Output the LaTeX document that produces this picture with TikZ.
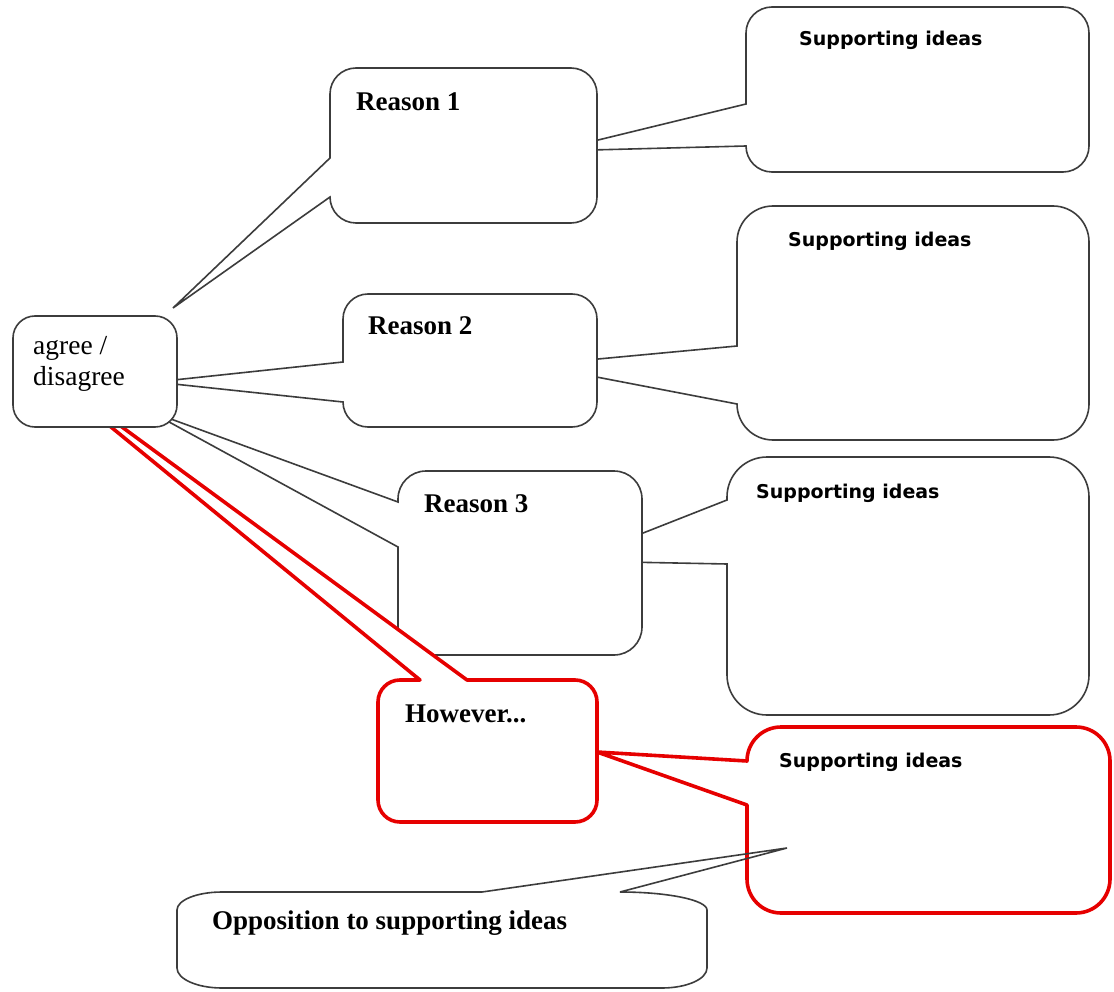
\documentclass[tikz,border=0pt]{standalone}
\usepackage{fontspec}
\setmainfont{Liberation Serif}
\newfontfamily\ideasans{DejaVu Sans}
\definecolor{outline}{RGB}{60,60,60}
\definecolor{calloutred}{RGB}{230,0,0}
\begin{document}
\begin{tikzpicture}[x=1pt,y=-1pt,
  bubble/.style={draw=outline, line width=1.6pt, fill=white, line join=miter, miter limit=4},
  redbubble/.style={draw=calloutred, line width=3.6pt, fill=white, line join=round},
  plainbubble/.style={draw=outline, line width=1.6pt, line join=miter, miter limit=4},
  seriftext/.style={anchor=base west, inner sep=0pt, font=\fontsize{27.5}{30}\selectfont},
  reasontext/.style={anchor=base west, inner sep=0pt, font=\fontsize{27}{30}\selectfont\bfseries},
  ideatext/.style={anchor=base west, inner sep=0pt, font=\ideasans\fontsize{19}{22}\selectfont\bfseries}]

% page
\fill[white] (0,0) rectangle (1114,992);
\useasboundingbox (0,0) rectangle (1114,992);

% supporting-idea bubbles (their tips tuck under the reason bubbles)
\draw[bubble] (772,7) -- (1063,7) arc[start angle=270,end angle=360,radius=26]
  -- (1089,146) arc[start angle=0,end angle=90,radius=26]
  -- (772,172) arc[start angle=90,end angle=180,radius=26]
  -- (553,151) -- (746,104)
  -- (746,33) arc[start angle=180,end angle=270,radius=26] -- cycle;
\draw[bubble] (773,206) -- (1053,206) arc[start angle=270,end angle=360,radius=36]
  -- (1089,404) arc[start angle=0,end angle=90,radius=36]
  -- (773,440) arc[start angle=90,end angle=180,radius=36]
  -- (534,365) -- (737,346)
  -- (737,242) arc[start angle=180,end angle=270,radius=36] -- cycle;
\draw[bubble] (767,457) -- (1049,457) arc[start angle=270,end angle=360,radius=40]
  -- (1089,675) arc[start angle=0,end angle=90,radius=40]
  -- (767,715) arc[start angle=90,end angle=180,radius=40]
  -- (727,564) -- (572,561) -- (727,500)
  -- (727,497) arc[start angle=180,end angle=270,radius=40] -- cycle;

% reason bubbles
\draw[bubble] (356,68) -- (571,68) arc[start angle=270,end angle=360,radius=26]
  -- (597,197) arc[start angle=0,end angle=90,radius=26]
  -- (356,223) arc[start angle=90,end angle=180,radius=26]
  -- (173,308) -- (330,158)
  -- (330,94) arc[start angle=180,end angle=270,radius=26] -- cycle;
\draw[bubble] (368,294) -- (572,294) arc[start angle=270,end angle=360,radius=25]
  -- (597,402) arc[start angle=0,end angle=90,radius=25]
  -- (368,427) arc[start angle=90,end angle=180,radius=25]
  -- (155,382) -- (343,362)
  -- (343,319) arc[start angle=180,end angle=270,radius=25] -- cycle;
\draw[bubble] (426,471) -- (614,471) arc[start angle=270,end angle=360,radius=28]
  -- (642,627) arc[start angle=0,end angle=90,radius=28]
  -- (426,655) arc[start angle=90,end angle=180,radius=28]
  -- (398,547) -- (149,411) -- (398,502)
  -- (398,499) arc[start angle=180,end angle=270,radius=28] -- cycle;

% counter-argument bubble
\draw[redbubble] (400,680) -- (420,680) -- (17,350) -- (467,680)
  -- (575,680) arc[start angle=270,end angle=360,radius=22]
  -- (597,800) arc[start angle=0,end angle=90,radius=22]
  -- (400,822) arc[start angle=90,end angle=180,radius=22]
  -- (378,702) arc[start angle=180,end angle=270,radius=22] -- cycle;

% opinion box
\draw[bubble] (35,316) -- (155,316) arc[start angle=270,end angle=360,radius=22]
  -- (177,405) arc[start angle=0,end angle=90,radius=22]
  -- (35,427) arc[start angle=90,end angle=180,radius=22]
  -- (13,338) arc[start angle=180,end angle=270,radius=22] -- cycle;

% supporting ideas for the counter-argument
\draw[redbubble] (781,727) -- (1076,727) arc[start angle=270,end angle=360,radius=34]
  -- (1110,879) arc[start angle=0,end angle=90,radius=34]
  -- (781,913) arc[start angle=90,end angle=180,radius=34]
  -- (747,805) -- (597,752) -- (747,761)
  arc[start angle=180,end angle=270,radius=34] -- cycle;

% opposition bubble
\draw[plainbubble] (222,892) -- (482,892) -- (787,848) -- (620,892)
  arc[start angle=270,end angle=360,x radius=87,y radius=18]
  -- (707,968) arc[start angle=0,end angle=90,x radius=45,y radius=20]
  -- (222,988) arc[start angle=90,end angle=180,x radius=45,y radius=20]
  -- (177,910) arc[start angle=180,end angle=270,x radius=45,y radius=18] -- cycle;

% labels
\node[seriftext] (agree) at (33,355) {agree /};
\node[seriftext] (disagree) at (33,385) {disagree};
\node[reasontext] (reason1) at (356,111) {Reason 1};
\node[reasontext] (reason2) at (368,335) {Reason 2};
\node[reasontext] (reason3) at (424,512) {Reason 3};
\node[reasontext] (however) at (405,722) {However...};
\node[reasontext] (opposition) at (212,929) {Opposition to supporting ideas};
\node[ideatext] (ideas1) at (799,46) {Supporting ideas};
\node[ideatext] (ideas2) at (788,247) {Supporting ideas};
\node[ideatext] (ideas3) at (756,498) {Supporting ideas};
\node[ideatext] (ideas4) at (779,767) {Supporting ideas};
\end{tikzpicture}
\end{document}
